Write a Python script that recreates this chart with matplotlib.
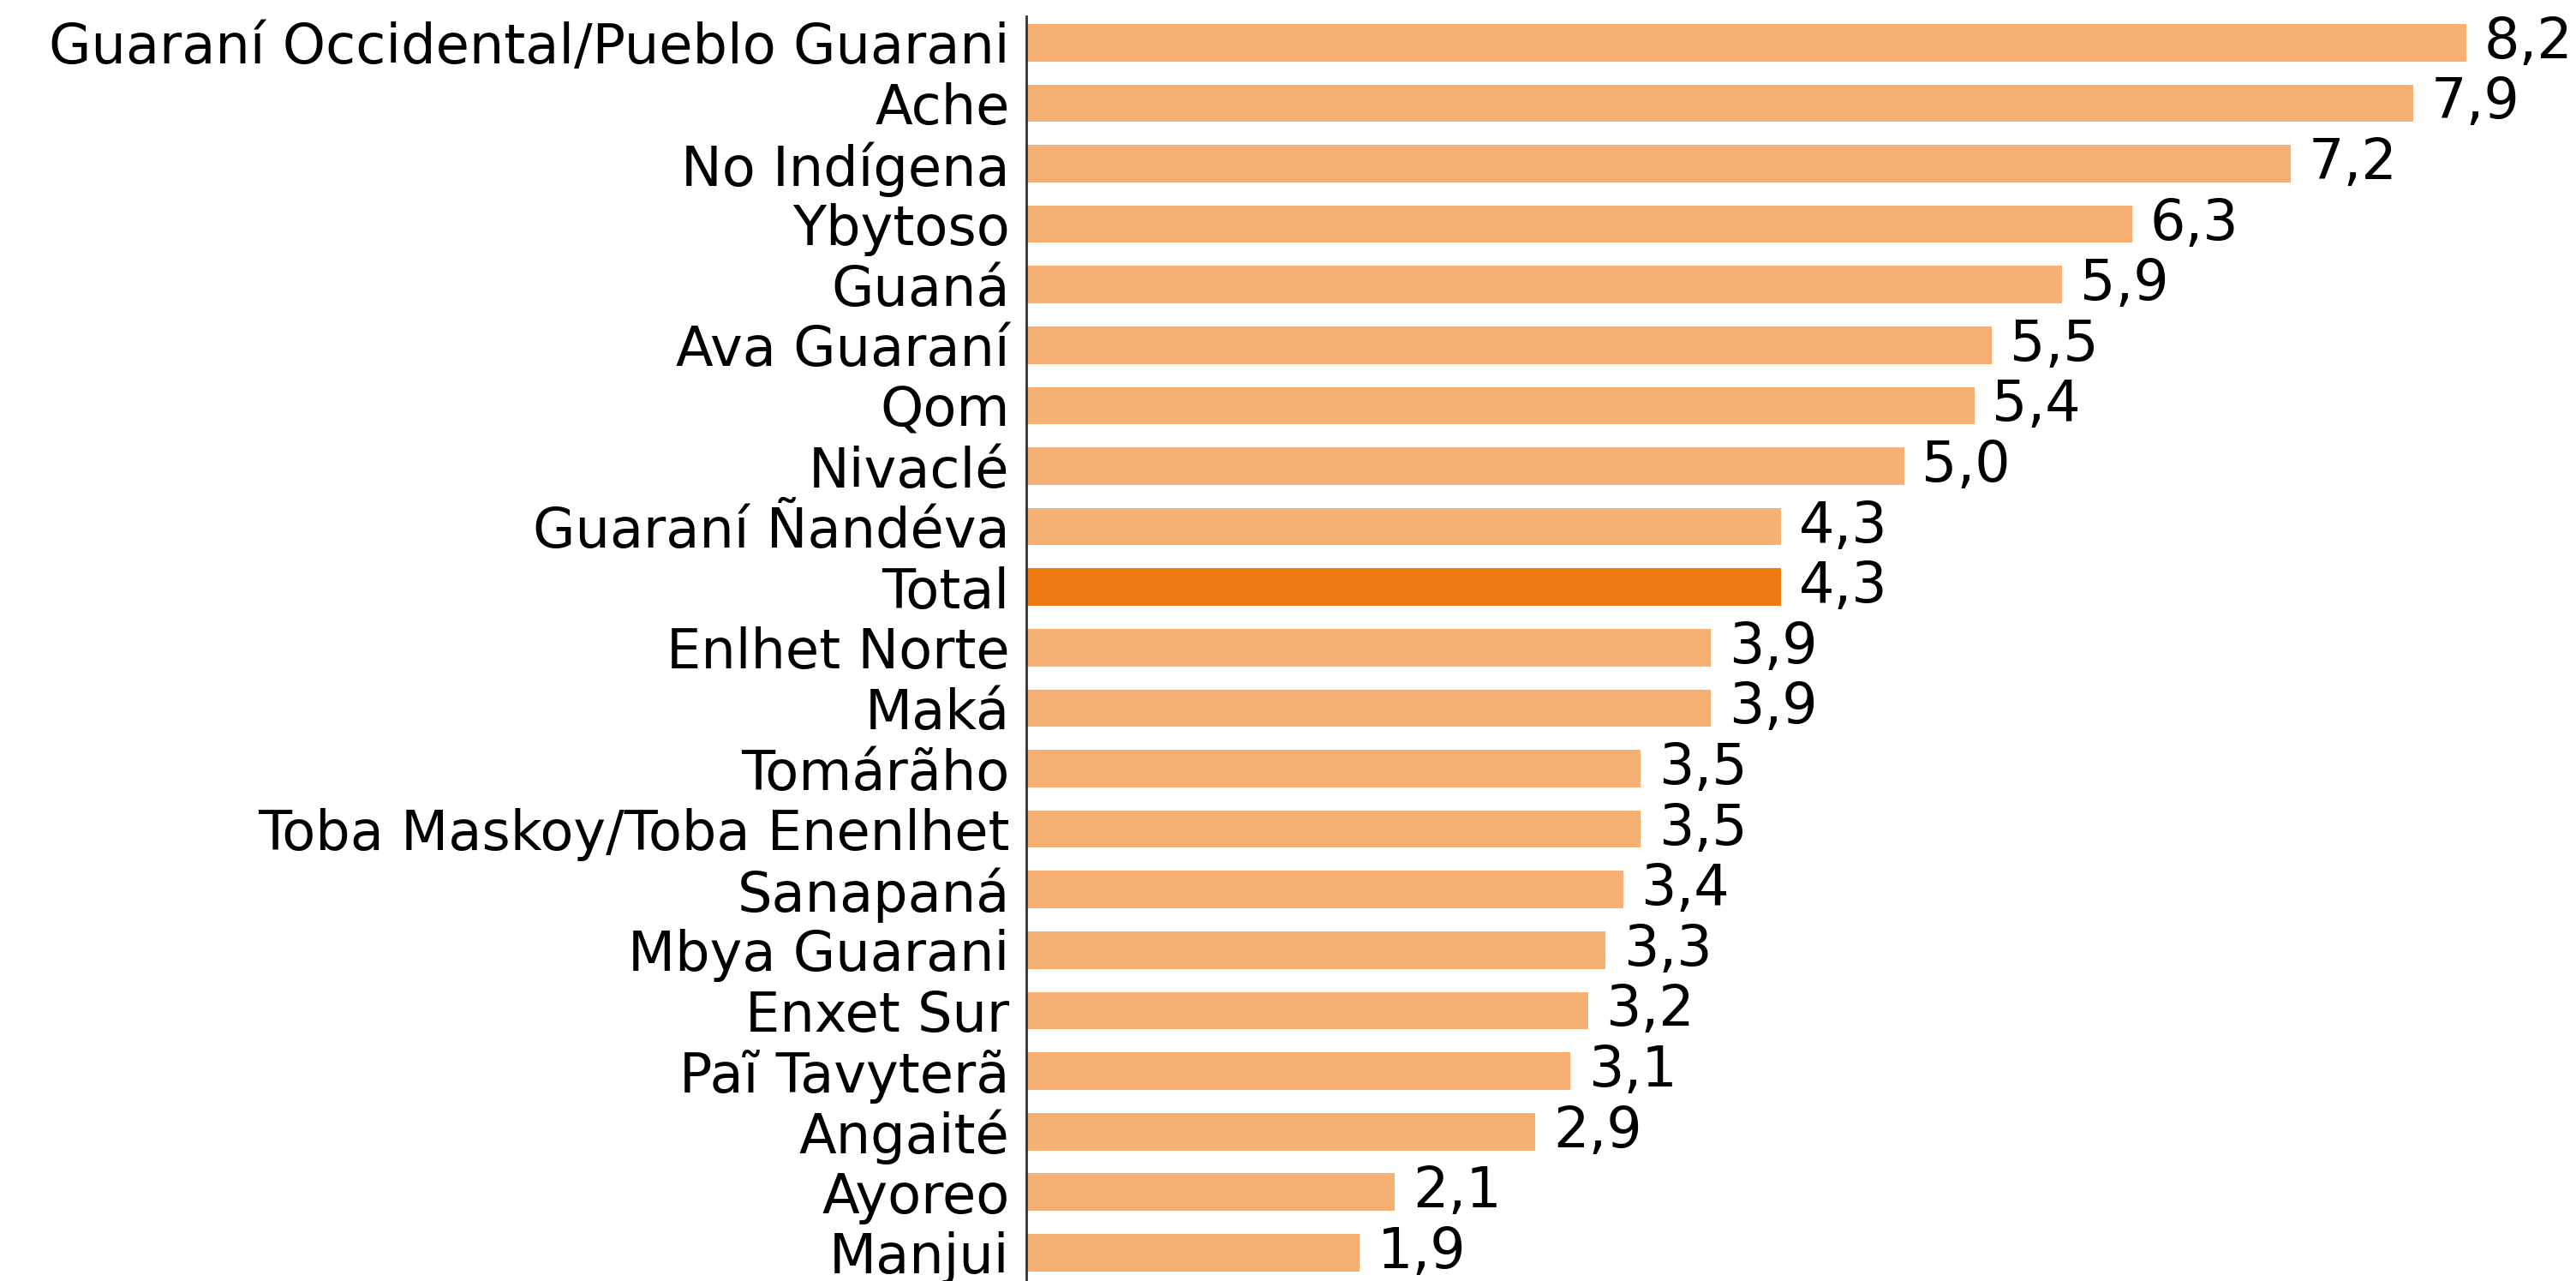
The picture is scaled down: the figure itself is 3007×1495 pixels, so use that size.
import matplotlib
matplotlib.use("Agg")
import matplotlib.pyplot as plt

# Datos
pueblos = [
    "Guaraní Occidental/Pueblo Guarani", "Ache", "No Indígena", "Ybytoso",
    "Guaná", "Ava Guaraní", "Qom", "Nivaclé", "Guaraní Ñandéva", "Total",
    "Enlhet Norte", "Maká", "Tomárãho", "Toba Maskoy/Toba Enenlhet",
    "Sanapaná", "Mbya Guarani", "Enxet Sur", "Paĩ Tavyterã", "Angaité",
    "Ayoreo", "Manjui",
]
valores = [8.2, 7.9, 7.2, 6.3, 5.9, 5.5, 5.4, 5.0, 4.3, 4.3,
           3.9, 3.9, 3.5, 3.5, 3.4, 3.3, 3.2, 3.1, 2.9, 2.1, 1.9]
etiquetas = ["8,2", "7,9", "7,2", "6,3", "5,9", "5,5", "5,4", "5,0", "4,3", "4,3",
             "3,9", "3,9", "3,5", "3,5", "3,4", "3,3", "3,2", "3,1", "2,9", "2,1", "1,9"]

COLOR_BARRA = "#F6B073"
COLOR_TOTAL = "#EE7A14"

plt.rcParams['font.family'] = ['DejaVu Sans']

fig = plt.figure(figsize=(30.07, 14.95), dpi=100)
ax = fig.add_axes([0.3984, 0.0, 0.593, 0.987])

pos = list(range(len(pueblos)))
colores = [COLOR_TOTAL if p == "Total" else COLOR_BARRA for p in pueblos]
ax.barh(pos, valores, height=0.62, color=colores)

for y, v, t in zip(pos, valores, etiquetas):
    ax.text(v + 0.1, y, t, va="center", ha="left", fontsize=47, clip_on=False)

ax.set_xlim(0, 8.7)
ax.set_ylim(20.47, -0.43)
ax.set_yticks(pos)
ax.set_yticklabels(pueblos, fontsize=46)
ax.tick_params(axis="y", length=0, pad=14)
ax.set_xticks([])

for lado in ["top", "right", "bottom"]:
    ax.spines[lado].set_visible(False)
ax.spines["left"].set_linewidth(2)
ax.spines["left"].set_color("#333333")

fig.savefig("out.png", dpi=100)
